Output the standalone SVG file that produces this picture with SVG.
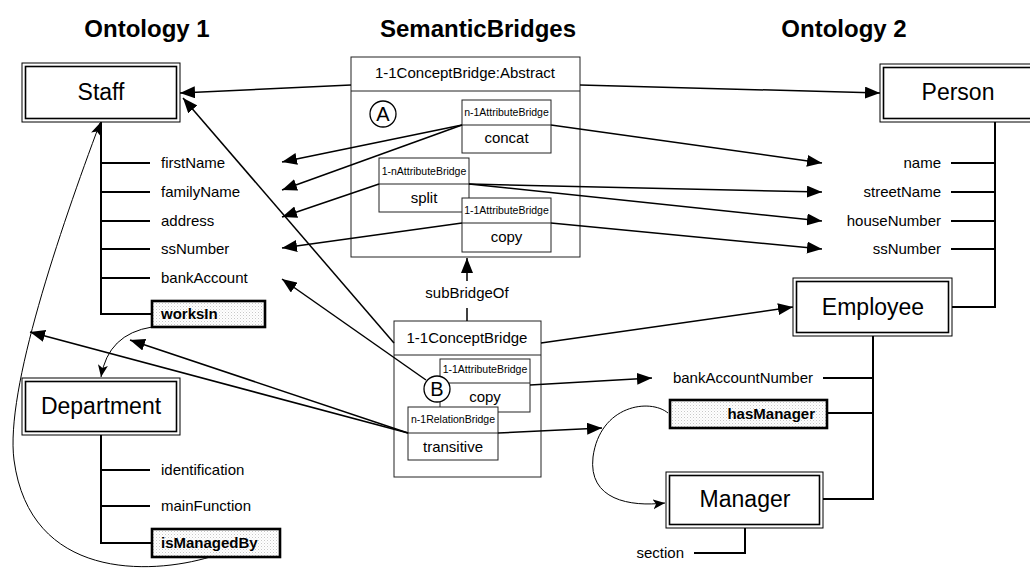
<svg xmlns="http://www.w3.org/2000/svg" width="1030" height="568" viewBox="0 0 1030 568">
<defs>
<marker id="ah" markerUnits="userSpaceOnUse" markerWidth="16" markerHeight="12" refX="15" refY="6" orient="auto">
<path d="M0,0 L15,6 L0,12 z" fill="#000"/>
</marker>
<marker id="as" markerUnits="userSpaceOnUse" markerWidth="13" markerHeight="11" refX="12" refY="5" orient="auto">
<path d="M0,0 L12,5 L0,10 L3,5 z" fill="#000"/>
</marker>
<pattern id="dots" width="3" height="3" patternUnits="userSpaceOnUse">
<rect width="3" height="3" fill="#fff"/>
<rect width="1" height="1" fill="#c8c8c8"/>
<rect x="1.5" y="1.5" width="1" height="1" fill="#e0e0e0"/>
</pattern>
</defs>
<style>
text{font-family:"Liberation Sans",Arial,sans-serif;fill:#000}
.title{font-size:24px;font-weight:bold;text-anchor:middle}
.cname{font-size:23px;text-anchor:middle}
.attr{font-size:15px}
.attrR{font-size:15px;text-anchor:end}
.rel{font-size:15px;font-weight:bold}
.hdr{font-size:15px;text-anchor:middle}
.small{font-size:10.5px;text-anchor:middle}
.op{font-size:15px;text-anchor:middle}
.cl{font-size:20px;text-anchor:middle}
.outer{fill:#fff;stroke:#000;stroke-width:1}
.inner{fill:none;stroke:#000;stroke-width:1.6}
.tree{fill:none;stroke:#000;stroke-width:2}
.relbox{fill:url(#dots);stroke:#000;stroke-width:2.6}
.bbox{fill:#fff;stroke:#222;stroke-width:1}
.conn{fill:none;stroke:#000;stroke-width:1.5}
.curve{fill:none;stroke:#000;stroke-width:1}
</style>

<g id="titles">
<text class="title" x="147" y="37">Ontology 1</text>
<text class="title" x="478" y="37">SemanticBridges</text>
<text class="title" x="844" y="37">Ontology 2</text>
</g>

<g id="staff">
<rect class="outer" x="22" y="63" width="158" height="59"/>
<rect class="inner" x="25.5" y="66.5" width="151" height="52"/>
<text class="cname" x="101" y="100">Staff</text>
<path class="tree" d="M101,122 V314 H152 M101,163 H150 M101,192 H150 M101,221 H150 M101,249 H150 M101,278 H150"/>
<text class="attr" x="161" y="168">firstName</text>
<text class="attr" x="161" y="197">familyName</text>
<text class="attr" x="161" y="226">address</text>
<text class="attr" x="161" y="254">ssNumber</text>
<text class="attr" x="161" y="283">bankAccount</text>
<rect class="relbox" x="152" y="301" width="113" height="26"/>
<text class="rel" x="161" y="319">worksIn</text>
</g>

<g id="department">
<rect class="outer" x="22" y="378" width="158" height="57"/>
<rect class="inner" x="25.5" y="381.5" width="151" height="50"/>
<text class="cname" x="101" y="414">Department</text>
<path class="tree" d="M101,435 V543 H152 M101,470 H150 M101,506 H150"/>
<text class="attr" x="161" y="475">identification</text>
<text class="attr" x="161" y="511">mainFunction</text>
<rect class="relbox" x="152" y="529" width="128" height="28"/>
<text class="rel" x="161" y="548">isManagedBy</text>
</g>

<g id="person">
<rect class="outer" x="880" y="64" width="158" height="58"/>
<rect class="inner" x="883.5" y="67.5" width="151" height="51"/>
<text class="cname" x="958" y="100">Person</text>
<path class="tree" d="M995,122 V307 H952 M995,163 H951 M995,192 H951 M995,221 H951 M995,249 H951"/>
<text class="attrR" x="941" y="168">name</text>
<text class="attrR" x="941" y="197">streetName</text>
<text class="attrR" x="941" y="226">houseNumber</text>
<text class="attrR" x="941" y="254">ssNumber</text>
</g>

<g id="employee">
<rect class="outer" x="793" y="278" width="159" height="58"/>
<rect class="inner" x="796.5" y="281.5" width="152" height="51"/>
<text class="cname" x="873" y="315">Employee</text>
<path class="tree" d="M873,336 V499 H823 M873,378 H823 M873,413 H827"/>
<text class="attrR" x="813" y="383">bankAccountNumber</text>
<rect class="relbox" x="670" y="400" width="157" height="28"/>
<text class="rel" x="815" y="419" text-anchor="end">hasManager</text>
</g>

<g id="manager">
<rect class="outer" x="666" y="472" width="157" height="56"/>
<rect class="inner" x="669.5" y="475.5" width="150" height="49"/>
<text class="cname" x="745" y="507">Manager</text>
<path class="tree" d="M745,528 V553 H694"/>
<text class="attrR" x="684" y="558">section</text>
</g>

<g id="bridgeA">
<rect class="bbox" x="351" y="57" width="229" height="200"/>
<line x1="351" y1="91" x2="580" y2="91" stroke="#222" stroke-width="1"/>
<text class="hdr" x="465" y="78">1-1ConceptBridge:Abstract</text>
<circle cx="383" cy="114" r="13" fill="#fff" stroke="#000" stroke-width="1.3"/>
<text class="cl" x="383" y="121">A</text>
<g id="concat">
<rect class="bbox" x="462" y="100" width="89" height="53"/>
<line x1="462" y1="125" x2="551" y2="125" stroke="#222"/>
<text class="small" x="506.5" y="116">n-1AttributeBridge</text>
<text class="op" x="506.5" y="143">concat</text>
</g>
<g id="split">
<rect class="bbox" x="379" y="158" width="90" height="54"/>
<line x1="379" y1="184" x2="469" y2="184" stroke="#222"/>
<text class="small" x="424" y="175">1-nAttributeBridge</text>
<text class="op" x="424" y="203">split</text>
</g>
<g id="copyA">
<rect class="bbox" x="462" y="198" width="89" height="54"/>
<line x1="462" y1="223" x2="551" y2="223" stroke="#222"/>
<text class="small" x="506.5" y="214">1-1AttributeBridge</text>
<text class="op" x="506.5" y="242">copy</text>
</g>
</g>

<g id="bridgeB">
<rect class="bbox" x="394" y="321" width="147" height="156"/>
<line x1="394" y1="355" x2="541" y2="355" stroke="#222"/>
<text class="hdr" x="467" y="343">1-1ConceptBridge</text>
<g id="copyB">
<rect class="bbox" x="440" y="359" width="90" height="53"/>
<line x1="440" y1="383" x2="530" y2="383" stroke="#222"/>
<text class="small" x="485" y="373">1-1AttributeBridge</text>
<text class="op" x="485" y="402">copy</text>
</g>
<g id="transitive">
<rect class="bbox" x="408" y="407" width="90" height="53"/>
<line x1="408" y1="433" x2="498" y2="433" stroke="#222"/>
<text class="small" x="453" y="423">n-1RelationBridge</text>
<text class="op" x="453" y="452">transitive</text>
</g>
<circle cx="437" cy="389" r="13" fill="#fff" stroke="#000" stroke-width="1.3"/>
<text class="cl" x="437" y="396">B</text>
</g>

<g id="connectors">
<line class="conn" x1="351" y1="85" x2="180" y2="93" marker-end="url(#ah)"/>
<line class="conn" x1="580" y1="85" x2="880" y2="93" marker-end="url(#ah)"/>
<line class="conn" x1="462" y1="125" x2="282" y2="162" marker-end="url(#ah)"/>
<line class="conn" x1="462" y1="125" x2="282" y2="190" marker-end="url(#ah)"/>
<line class="conn" x1="379" y1="184" x2="282" y2="217" marker-end="url(#ah)"/>
<line class="conn" x1="462" y1="223" x2="282" y2="248" marker-end="url(#ah)"/>
<line class="conn" x1="551" y1="125" x2="822" y2="163" marker-end="url(#ah)"/>
<line class="conn" x1="469" y1="184" x2="822" y2="192" marker-end="url(#ah)"/>
<line class="conn" x1="469" y1="184" x2="822" y2="221" marker-end="url(#ah)"/>
<line class="conn" x1="551" y1="223" x2="822" y2="249" marker-end="url(#ah)"/>
<line class="conn" x1="467" y1="321" x2="467" y2="308"/>
<line class="conn" x1="467" y1="281" x2="467" y2="258" marker-end="url(#ah)"/>
<text class="op" x="467" y="298">subBridgeOf</text>
<line class="conn" x1="394" y1="343" x2="183" y2="98" marker-end="url(#ah)"/>
<line class="conn" x1="426" y1="380" x2="282" y2="279" marker-end="url(#ah)"/>
<line class="conn" x1="541" y1="343" x2="793" y2="307" marker-end="url(#ah)"/>
<line class="conn" x1="530" y1="385" x2="652" y2="378" marker-end="url(#ah)"/>
<line class="conn" x1="498" y1="433" x2="602" y2="428" marker-end="url(#ah)"/>
<line class="conn" x1="408" y1="433" x2="30" y2="332" marker-end="url(#ah)"/>
<line class="conn" x1="408" y1="433" x2="130" y2="340" marker-end="url(#ah)"/>
<path class="curve" d="M152,327 Q108,334 101,377" marker-end="url(#as)"/>
<path class="curve" d="M210,557 C150,575 30,580 14,460 C5,390 60,230 100,123" marker-end="url(#as)"/>
<path class="curve" d="M668,413 C650,398 600,405 593,457 C588,500 630,507 665,503" marker-end="url(#as)"/>
</g>
</svg>
